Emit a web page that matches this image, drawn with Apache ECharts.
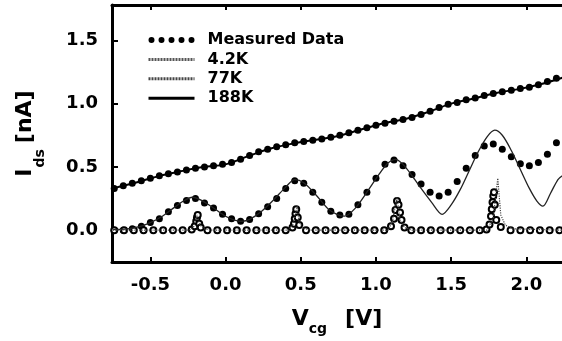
<!DOCTYPE html>
<html>
<head>
<meta charset="utf-8">
<script src="https://cdn.jsdelivr.net/npm/echarts@6/dist/echarts.min.js"></script>
<style>
  html, body { margin: 0; padding: 0; background: #fff; }
  #main { width: 562px; height: 341px; }
</style>
</head>
<body>
<div id="main"></div>
<script>
// measured points, gate voltage grid [V]
var vMeas = [-0.74, -0.68, -0.62, -0.56, -0.50, -0.44, -0.38, -0.32, -0.26, -0.20,
  -0.14, -0.08, -0.02, 0.04, 0.10, 0.16, 0.22, 0.28, 0.34, 0.40,
  0.46, 0.52, 0.58, 0.64, 0.70, 0.76, 0.82, 0.88, 0.94, 1.00,
  1.06, 1.12, 1.18, 1.24, 1.30, 1.36, 1.42, 1.48, 1.54, 1.60,
  1.66, 1.72, 1.78, 1.84, 1.90, 1.96, 2.02, 2.08, 2.14, 2.20];
// measured current at 188K [nA]
var iMeas188 = [0.33, 0.35, 0.37, 0.39, 0.41, 0.43, 0.445, 0.46, 0.475, 0.49,
  0.50, 0.51, 0.52, 0.535, 0.56, 0.59, 0.62, 0.64, 0.66, 0.675,
  0.69, 0.70, 0.71, 0.72, 0.735, 0.75, 0.77, 0.79, 0.81, 0.83,
  0.845, 0.86, 0.875, 0.89, 0.915, 0.94, 0.97, 0.995, 1.01, 1.03,
  1.045, 1.065, 1.08, 1.095, 1.105, 1.12, 1.13, 1.15, 1.175, 1.20];
// measured current at 77K [nA]
var iMeas77 = [0.0, 0.0, 0.01, 0.03, 0.06, 0.09, 0.145, 0.195, 0.235, 0.25,
  0.215, 0.175, 0.125, 0.09, 0.07, 0.085, 0.13, 0.185, 0.25, 0.33,
  0.39, 0.37, 0.30, 0.22, 0.15, 0.12, 0.125, 0.20, 0.30, 0.41,
  0.52, 0.555, 0.51, 0.44, 0.365, 0.30, 0.27, 0.30, 0.385, 0.49,
  0.59, 0.665, 0.68, 0.64, 0.58, 0.525, 0.51, 0.535, 0.60, 0.69];
// measured at 4.2K (finer steps near the peaks)
var vMeas4 = [-0.74, -0.675, -0.61, -0.545, -0.48, -0.415, -0.35, -0.285, -0.225,
  -0.205, -0.195, -0.19, -0.185, -0.175, -0.165,
  -0.12, -0.055, 0.01, 0.075, 0.14, 0.205, 0.27, 0.335, 0.40,
  0.445, 0.455, 0.46, 0.465, 0.47, 0.48, 0.49,
  0.535, 0.60, 0.665, 0.73, 0.795, 0.86, 0.925, 0.99, 1.055,
  1.10, 1.12, 1.13, 1.14, 1.15, 1.16, 1.17, 1.19,
  1.235, 1.30, 1.365, 1.43, 1.495, 1.56, 1.625, 1.69, 1.735,
  1.755, 1.765, 1.77, 1.775, 1.78, 1.785, 1.79, 1.80,
  1.83, 1.895, 1.96, 2.025, 2.09, 2.155, 2.22];
var iMeas4 = [0, 0, 0, 0, 0, 0, 0, 0, 0.005,
  0.03, 0.07, 0.10, 0.12, 0.05, 0.02,
  0, 0, 0, 0, 0, 0, 0, 0, 0,
  0.02, 0.05, 0.09, 0.13, 0.165, 0.10, 0.04,
  0, 0, 0, 0, 0, 0, 0, 0, 0,
  0.03, 0.09, 0.16, 0.23, 0.20, 0.14, 0.08, 0.02,
  0, 0, 0, 0, 0, 0, 0, 0, 0.005,
  0.045, 0.11, 0.165, 0.22, 0.27, 0.30, 0.20, 0.08,
  0.025, 0, 0, 0, 0, 0, 0];

// simulated curves
var v188 = [-0.75, -0.6, -0.45, -0.3, -0.15, 0, 0.15, 0.3, 0.45, 0.6, 0.75,
  0.9, 1.05, 1.2, 1.35, 1.5, 1.65, 1.8, 1.95, 2.1, 2.24];
var i188 = [0.33, 0.375, 0.425, 0.465, 0.50, 0.52, 0.585, 0.645, 0.685, 0.715, 0.745,
  0.795, 0.845, 0.88, 0.935, 1.0, 1.04, 1.085, 1.115, 1.155, 1.205];
var v77 = [-0.75, -0.65, -0.58, -0.50, -0.42, -0.34, -0.28, -0.22, -0.16, -0.08,
  0.00, 0.06, 0.11, 0.16, 0.24, 0.32, 0.40, 0.46, 0.52, 0.60,
  0.68, 0.74, 0.79, 0.86, 0.94, 1.02, 1.08, 1.13, 1.18, 1.24,
  1.30, 1.37, 1.44, 1.50, 1.56, 1.62, 1.68, 1.74, 1.79, 1.84,
  1.90, 1.96, 2.02, 2.07, 2.11, 2.16, 2.21, 2.24];
var i77 = [0.005, 0.01, 0.025, 0.06, 0.11, 0.18, 0.23, 0.26, 0.235, 0.175,
  0.11, 0.08, 0.07, 0.085, 0.15, 0.24, 0.34, 0.40, 0.375, 0.28,
  0.17, 0.125, 0.11, 0.17, 0.30, 0.44, 0.53, 0.56, 0.52, 0.43,
  0.33, 0.22, 0.125, 0.20, 0.32, 0.47, 0.62, 0.74, 0.79, 0.75,
  0.63, 0.48, 0.33, 0.23, 0.19, 0.29, 0.40, 0.43];
var v4 = [-0.75, -0.24, -0.21, -0.19, -0.17, -0.14, -0.10, 0.42, 0.45, 0.475, 0.49, 0.52, 0.56,
  1.08, 1.11, 1.14, 1.16, 1.19, 1.24, 1.74, 1.78, 1.81, 1.83, 1.86, 1.91, 2.24];
var i4 = [0, 0, 0.03, 0.12, 0.04, 0.01, 0, 0, 0.05, 0.19, 0.06, 0.015, 0,
  0, 0.07, 0.26, 0.08, 0.02, 0, 0, 0.10, 0.41, 0.12, 0.04, 0.01, 0];

var xTicks = [-0.5, 0, 0.5, 1, 1.5, 2];
var yTicks = [0, 0.5, 1, 1.5];

var FONT = 'DejaVu Sans';

function zip(xs, ys) {
  return xs.map(function (x, i) { return [x, ys[i]]; });
}

// five dots for the legend entry of the measured data
var dotsIcon = 'path://M0,3A3,3,0,1,1,6,3A3,3,0,1,1,0,3Z' +
  'M10,3A3,3,0,1,1,16,3A3,3,0,1,1,10,3Z' +
  'M20,3A3,3,0,1,1,26,3A3,3,0,1,1,20,3Z' +
  'M30,3A3,3,0,1,1,36,3A3,3,0,1,1,30,3Z' +
  'M40,3A3,3,0,1,1,46,3A3,3,0,1,1,40,3Z';

var chart = echarts.init(document.getElementById('main'));

var xMin = -0.755, xMax = 2.237;

var option = {
  animation: false,
  backgroundColor: '#fff',
  grid: { left: 112, right: 0, top: 5, bottom: 77.5 },
  legend: {
    orient: 'vertical',
    left: 142,
    top: 27,
    itemWidth: 46,
    itemHeight: 7,
    itemGap: 3.4,
    textStyle: { fontFamily: FONT, fontWeight: 'bold', fontSize: 16, color: '#000', lineHeight: 16, padding: [0, 0, 0, 8] },
    data: [
      { name: 'Measured Data', icon: dotsIcon, itemStyle: { color: '#000', opacity: 1 } },
      { name: '4.2K', itemStyle: { opacity: 0 }, lineStyle: { type: [2, 1], width: 3, color: '#555' } },
      { name: '77K', itemStyle: { opacity: 0 }, lineStyle: { type: [2, 1], width: 3, color: '#444' } },
      { name: '188K', itemStyle: { opacity: 0 }, lineStyle: { width: 3, color: '#000' } }
    ]
  },
  xAxis: [{
    type: 'value',
    position: 'bottom',
    min: xMin, max: xMax,
    axisLine: { onZero: false, lineStyle: { color: '#000', width: 3 } },
    axisTick: { inside: true, length: 5, customValues: xTicks, lineStyle: { color: '#000', width: 2 } },
    axisLabel: {
      customValues: xTicks,
      margin: 14,
      color: '#000', fontFamily: FONT, fontWeight: 'bold', fontSize: 18,
      formatter: function (v) { return v.toFixed(1); }
    },
    splitLine: { show: false },
    name: '{v|V}{s|cg}{b|[V]}',
    nameLocation: 'middle',
    nameGap: 40,
    nameTextStyle: {
      rich: {
        v: { fontFamily: FONT, fontWeight: 'bold', fontSize: 22, color: '#000' },
        s: { fontFamily: FONT, fontWeight: 'bold', fontSize: 14, color: '#000', padding: [20, 0, 0, 0], verticalAlign: 'bottom' },
        b: { fontFamily: FONT, fontWeight: 'bold', fontSize: 22, color: '#000', padding: [0, 0, 0, 18] }
      }
    }
  }, {
    type: 'value',
    position: 'top',
    min: xMin, max: xMax,
    axisLine: { onZero: false, lineStyle: { color: '#000', width: 3 } },
    axisTick: { inside: true, length: 5, customValues: xTicks, lineStyle: { color: '#000', width: 2 } },
    axisLabel: { show: false },
    splitLine: { show: false }
  }],
  yAxis: {
    type: 'value',
    min: -0.252, max: 1.78,
    axisLine: { onZero: false, lineStyle: { color: '#000', width: 3 } },
    axisTick: { inside: true, length: 6, customValues: yTicks, lineStyle: { color: '#000', width: 2 } },
    axisLabel: {
      customValues: yTicks,
      margin: 14,
      color: '#000', fontFamily: FONT, fontWeight: 'bold', fontSize: 18,
      formatter: function (v) { return v.toFixed(1); }
    },
    splitLine: { show: false },
    name: '{v|I}{s|ds}{b|[nA]}',
    nameLocation: 'middle',
    nameRotate: 90,
    nameGap: 65,
    nameTextStyle: {
      rich: {
        v: { fontFamily: FONT, fontWeight: 'bold', fontSize: 22, color: '#000' },
        s: { fontFamily: FONT, fontWeight: 'bold', fontSize: 14, color: '#000', padding: [30, 0, 0, 1], verticalAlign: 'bottom' },
        b: { fontFamily: FONT, fontWeight: 'bold', fontSize: 22, color: '#000', padding: [0, 0, 0, 6] }
      }
    }
  },
  series: [
    {
      name: '188K', type: 'line', data: zip(v188, i188),
      smooth: 0.4, showSymbol: false, symbol: 'none',
      lineStyle: { color: '#000', width: 2 }, itemStyle: { color: '#000' }
    },
    {
      name: '77K', type: 'line', data: zip(v77, i77),
      smooth: 0.3, showSymbol: false, symbol: 'none',
      lineStyle: { color: '#222', width: 1.3 }, itemStyle: { color: '#222' }
    },
    {
      name: '4.2K', type: 'line', data: zip(v4, i4),
      showSymbol: false, symbol: 'none',
      lineStyle: { color: '#444', width: 1.2, type: 'dotted' }, itemStyle: { color: '#444' }
    },
    {
      name: 'Measured Data', type: 'scatter', data: zip(vMeas, iMeas188),
      symbol: 'circle', symbolSize: 7, itemStyle: { color: '#000', opacity: 1 }
    },
    {
      name: 'Measured Data', type: 'scatter', data: zip(vMeas, iMeas77),
      symbol: 'circle', symbolSize: 7, itemStyle: { color: '#000', opacity: 1 }
    },
    {
      name: 'Measured Data', type: 'scatter', data: zip(vMeas4, iMeas4),
      symbol: 'emptyCircle', symbolSize: 6, itemStyle: { color: '#000', borderWidth: 1.6, opacity: 1 }
    }
  ]
};

chart.setOption(option);
</script>
</body>
</html>
